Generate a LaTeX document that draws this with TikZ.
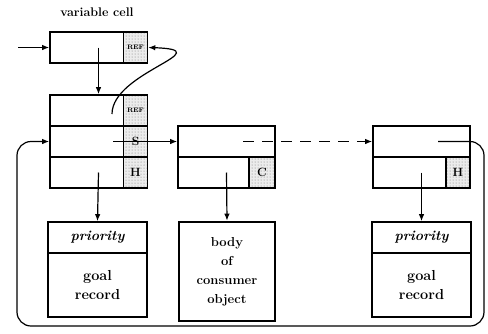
\documentclass[tikz,border=0pt]{standalone}
\usepackage{amsmath}
\usepackage{tikz}
\usetikzlibrary{patterns,arrows.meta}

\begin{document}
\begin{tikzpicture}[
    x=1pt, y=-1pt,
    cell/.style={draw, line width=1.6pt, rectangle, inner sep=0pt, minimum width=97pt, minimum height=31pt},
    tag/.style={draw, line width=1.6pt, rectangle, inner sep=0pt, minimum width=24pt, minimum height=31pt,
        preaction={fill=gray!15}, pattern=dots, pattern color=gray!90!black, font=\bfseries\fontsize{12}{12}\selectfont},
    rec/.style={draw, line width=1.6pt, rectangle, inner sep=0pt, minimum width=99pt, align=center,
        font=\bfseries\fontsize{14.5}{19}\selectfont},
    link/.style={line width=1.2pt, -{Latex[length=7pt,width=5.5pt]}}
]
\useasboundingbox (0,0) rectangle (488,333);

\node[font=\bfseries\fontsize{12.5}{12.5}\selectfont] (title) at (97,12) {variable cell};

\node[cell] (var) at (98.5,47.5) {};
\node[tag, font=\bfseries\fontsize{6.5}{6.5}\selectfont] (varref) at (135.5,47.5) {REF};

\node[cell] (hooka) at (98.5,110.5) {};
\node[cell] (hookb) at (98.5,141.5) {};
\node[cell] (hookc) at (98.5,172.5) {};
\node[tag, font=\bfseries\fontsize{6.5}{6.5}\selectfont] (hookref) at (135.5,110.5) {REF};
\node[tag] (hooks) at (135.5,141.5) {S};
\node[tag] (hookh) at (135.5,172.5) {H};

\node[cell] (consa) at (226.5,141.5) {};
\node[cell] (consb) at (226.5,172.5) {};
\node[tag, minimum width=26pt] (consc) at (262,172.5) {C};

\node[cell] (lasta) at (421.5,141.5) {};
\node[cell] (lastb) at (421.5,172.5) {};
\node[tag] (lasth) at (458,172.5) {H};

\node[rec, minimum height=31pt, font=\bfseries\itshape\fontsize{14}{19}\selectfont] (prioa) at (97.5,237.5) {priority};
\node[rec, minimum height=64pt] (goala) at (97.5,285) {goal\\record};
\node[rec, minimum width=96pt, minimum height=99pt, line width=2.6pt,
      font=\bfseries\fontsize{13}{19}\selectfont] (body) at (227,271.5) {body\\of\\consumer\\object};
\node[rec, minimum height=31pt, font=\bfseries\itshape\fontsize{14}{19}\selectfont] (priob) at (421.5,237.5) {priority};
\node[rec, minimum height=64pt] (goalb) at (421.5,285) {goal\\record};

\coordinate (in) at (18,47.5);
\coordinate (hookin) at (112,114);
\coordinate (hookout) at (113,141.5);
\coordinate (consout) at (243,141.5);
\coordinate (lastout) at (438,141.5);

\draw[link] (in) -- (var.west);
\draw[link] (var.center) -- (hooka.north);
\draw[link] (hookin) .. controls (112,72) and (222,50) .. (varref.east);
\draw[link] (hookout) -- (consa.west);
\draw[link, dash pattern=on 11pt off 8pt] (consout) -- (lasta.west);
\draw[link, rounded corners=14pt] (lastout) -- (484,141.5) -- (484,326) -- (17,326) -- (17,141.5) -- (hookb.west);
\draw[link] (hookc.center) -- (prioa.north);
\draw[link] (consb.center) -- (body.north);
\draw[link] (lastb.center) -- (priob.north);
\end{tikzpicture}
\end{document}
